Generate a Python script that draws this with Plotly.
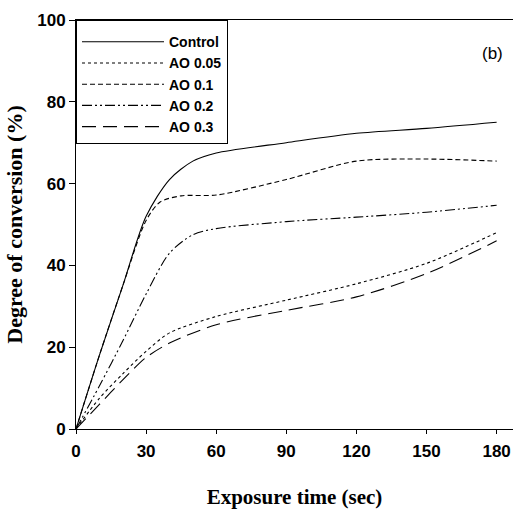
import plotly.graph_objects as go

time_control = [0, 10, 20, 30, 40, 50, 60, 90, 120, 150, 180]
control = [0, 18, 35, 52, 61, 65.5, 67.5, 70, 72.3, 73.5, 75]

time_ao005 = [0, 10, 20, 30, 40, 60, 90, 120, 150, 180]
ao005 = [0, 7.5, 13.5, 19, 23.5, 27.5, 31.5, 35.5, 40.5, 48]

time_ao01 = [0, 10, 20, 30, 36, 45, 60, 90, 120, 150, 180]
ao01 = [0, 18, 35, 51, 55.5, 57, 57.2, 61, 65.5, 66, 65.5]

time_ao02 = [0, 10, 20, 30, 40, 50, 60, 90, 120, 150, 180]
ao02 = [0, 10.5, 21.5, 33, 43, 47.5, 49, 50.7, 51.8, 53, 54.7]

time_ao03 = [0, 10, 20, 30, 40, 60, 90, 120, 150, 180]
ao03 = [0, 6, 12, 17.5, 21, 25.5, 29, 32.3, 38, 46]

series = [
    ("Control", time_control, control, "solid"),
    ("AO 0.05", time_ao005, ao005, "dot"),
    ("AO 0.1", time_ao01, ao01, "5px,3px"),
    ("AO 0.2", time_ao02, ao02, "10px,3px,2px,3px,2px,3px"),
    ("AO 0.3", time_ao03, ao03, "14px,7px"),
]

x_ticks = [0, 30, 60, 90, 120, 150, 180]
y_ticks = [0, 20, 40, 60, 80, 100]

fig = go.Figure()
for name, xs, ys, dash in series:
    fig.add_trace(go.Scatter(
        x=xs, y=ys, name=name, mode="lines",
        line=dict(color="black", width=1.1, dash=dash, shape="spline", smoothing=0.8),
    ))

narrow = "Liberation Sans Narrow, Arial Narrow, Liberation Sans, Arial"
serif = "Liberation Serif, Times New Roman, serif"

fig.update_layout(
    width=513, height=510,
    margin=dict(l=76, r=0, t=20, b=81),
    paper_bgcolor="white", plot_bgcolor="white",
    showlegend=True,
    legend=dict(
        x=0, y=1, xanchor="left", yanchor="top",
        bordercolor="black", borderwidth=1, bgcolor="white",
        font=dict(family=narrow, size=14, color="black", weight="bold"),
        itemwidth=82, tracegroupgap=0,
        title=dict(text=" ", font=dict(size=4)),
    ),
    xaxis=dict(
        range=[0, 187], tickvals=x_ticks, ticktext=[str(v) for v in x_ticks],
        showline=True, linecolor="black", linewidth=1, mirror=True,
        ticks="outside", ticklen=4, tickcolor="black", showgrid=False, zeroline=False,
        ticklabelstandoff=3,
        tickfont=dict(family=narrow, size=17, color="black", weight="bold"),
        title=dict(text="Exposure time (sec)", standoff=28,
                   font=dict(family=serif, size=21, color="black", weight="bold")),
    ),
    yaxis=dict(
        range=[0, 100], tickvals=y_ticks, ticktext=[str(v) for v in y_ticks],
        showline=True, linecolor="black", linewidth=1,
        ticks="outside", ticklen=6, tickcolor="black", showgrid=False, zeroline=False,
        tickfont=dict(family=narrow, size=17, color="black", weight="bold"),
        title=dict(text="Degree of conversion (%)", standoff=8,
                   font=dict(family=serif, size=22, color="black", weight="bold")),
    ),
    annotations=[dict(
        text="(b)", x=0.952, y=0.917, xref="paper", yref="paper",
        xanchor="center", yanchor="middle",
        showarrow=False, font=dict(family="Liberation Sans, Arial", size=17, color="black"),
    )],
)

fig.write_html("out.html")
